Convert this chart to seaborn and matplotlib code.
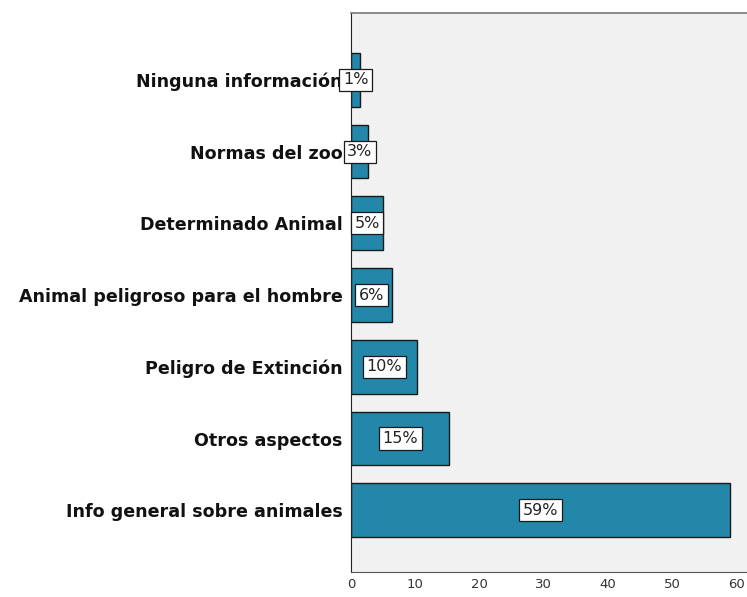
import matplotlib
matplotlib.use('Agg')
import matplotlib.pyplot as plt
import seaborn as sns
import pandas as pd

# data (percent of responses)
categories = ['Ninguna información', 'Normas del zoo', 'Determinado Animal',
              'Animal peligroso para el hombre', 'Peligro de Extinción',
              'Otros aspectos', 'Info general sobre animales']
values = [1.4, 2.7, 5.0, 6.4, 10.3, 15.3, 58.9]
labels = ['1%', '3%', '5%', '6%', '10%', '15%', '59%']
x_ticks = [0, 10, 20, 30, 40, 50, 60]

df = pd.DataFrame({'cat': categories, 'pct': values})

sns.set_style('white')
plt.rcParams['font.family'] = ['DejaVu Sans']

fig = plt.figure(figsize=(7.47, 5.97), dpi=100)
ax = fig.add_axes([0.47, 0.042, 0.53, 0.936])
ax.set_facecolor('#f1f1f1')

sns.barplot(data=df, x='pct', y='cat', order=categories, color='#2287a9',
            saturation=1, width=0.75, edgecolor='#1a1a1a', linewidth=1.0, ax=ax)

for i, (v, lab) in enumerate(zip(values, labels)):
    ax.text(v / 2, i, lab, ha='center', va='center', fontsize=11.5, color='#222222',
            bbox=dict(boxstyle='square,pad=0.22', facecolor='white', edgecolor='#1a1a1a', linewidth=0.9))

ax.set_xlim(0, 61.6)
ax.set_ylim(6.86, -0.93)
ax.set_xticks(x_ticks)
ax.set_xlabel('')
ax.set_ylabel('')

for lab in ax.get_yticklabels():
    lab.set_fontweight('bold')
    lab.set_fontsize(12.6)
ax.tick_params(axis='y', length=5, width=1, color='#222222', pad=1, labelcolor='#111111')
ax.tick_params(axis='x', length=5, width=1, color='#444444', pad=2, labelsize=9.5, labelcolor='#333333',
               direction='inout')

ax.spines['left'].set_color('#222222')
ax.spines['bottom'].set_color('#555555')
ax.spines['top'].set_color('#777777')
ax.spines['top'].set_linewidth(1.2)
ax.spines['right'].set_visible(False)

fig.savefig('out.png', dpi=100)
